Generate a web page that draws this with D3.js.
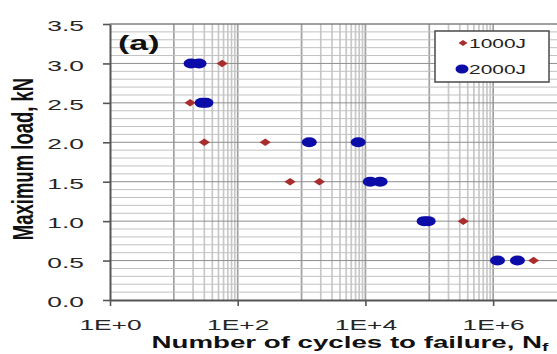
<!DOCTYPE html>
<html>
<head>
<meta charset="utf-8">
<script src="https://cdn.jsdelivr.net/npm/d3@7"></script>
<style>
  body { margin: 0; background: #fff; }
  svg { display: block; font-family: "Liberation Sans", Arial, sans-serif; }
</style>
</head>
<body>
<div id="chart"></div>
<script>
// values
const seriesNames = ["1000J", "2000J"];
const cycles1000 = [57, 18, 30, 270, 660, 1900, 340000, 4300000];
const loads1000 = [3.0, 2.5, 2.0, 2.0, 1.5, 1.5, 1.0, 0.5];
const cycles2000 = [18.6, 24.8, 27.7, 31.8, 1320, 7700, 11900, 17000, 83000, 96000, 1170000, 2400000];
const loads2000 = [3.0, 3.0, 2.5, 2.5, 2.0, 2.0, 1.5, 1.5, 1.0, 1.0, 0.5, 0.5];
const xTicks = [1, 1e2, 1e4, 1e6];
const xTickLabels = ["1E+0", "1E+2", "1E+4", "1E+6"];
const yTicks = [0, 0.5, 1.0, 1.5, 2.0, 2.5, 3.0, 3.5];

const w = 557;
const h = 354;
const plotLeft = 110;
const plotTop = 24;
const plotBottom = 300;
const plotRight = 557;
const stretch = 1.7; // the figure is stretched sideways

const xScale = d3.scaleLog().domain([1, 1e7]).range([plotLeft, plotRight]);
const yScale = d3.scaleLinear().domain([0, 3.5]).range([plotBottom, plotTop]);

const svg = d3.select("#chart").append("svg").attr("width", w).attr("height", h);

// vertical grid (log base 100 style: minor lines only in odd decades)
const vLines = [];
[1, 3, 5].forEach((n) => {
  for (let k = 1; k <= 10; k++) vLines.push({ v: k * Math.pow(10, n), major: k === 1 || k === 10 });
});
svg.append("g")
  .selectAll("line")
  .data(vLines)
  .enter()
  .append("line")
  .attr("x1", (d) => xScale(d.v))
  .attr("x2", (d) => xScale(d.v))
  .attr("y1", plotTop)
  .attr("y2", plotBottom)
  .attr("stroke", (d) => (d.major ? "#a0a0a0" : "#c8c8c8"))
  .attr("stroke-width", 1.7);

// horizontal grid every 0.1
const hLines = d3.range(1, 35).map((i) => i / 10);
svg.append("g")
  .selectAll("line")
  .data(hLines)
  .enter()
  .append("line")
  .attr("x1", plotLeft)
  .attr("x2", plotRight)
  .attr("y1", (d) => yScale(d))
  .attr("y2", (d) => yScale(d))
  .attr("stroke", (d) => (Math.abs(d * 2 - Math.round(d * 2)) < 1e-6 ? "#8e8e8e" : "#c2c2c2"))
  .attr("stroke-width", 1);

// top border
svg.append("line")
  .attr("x1", plotLeft).attr("x2", plotRight)
  .attr("y1", yScale(3.5)).attr("y2", yScale(3.5))
  .attr("stroke", "#808080").attr("stroke-width", 1.3);

// axes
const xAxis = d3.axisBottom(xScale).tickValues(xTicks)
  .tickFormat((d, i) => xTickLabels[i]).tickSizeInner(6).tickSizeOuter(0);
const yAxis = d3.axisLeft(yScale).tickValues(yTicks)
  .tickFormat(d3.format(".1f")).tickSizeInner(7).tickSizeOuter(0);

const gx = svg.append("g").attr("transform", "translate(0," + plotBottom + ")").call(xAxis);
const gy = svg.append("g").attr("transform", "translate(" + plotLeft + ",0)").call(yAxis);

[gx, gy].forEach((g) => {
  g.select(".domain").attr("stroke", "#555").attr("stroke-width", 2);
  g.selectAll(".tick line").attr("stroke", "#555").attr("stroke-width", 1.6);
  g.selectAll(".tick text").attr("fill", "#262626").attr("font-size", 15.5);
});
gx.selectAll(".tick text").attr("y", 0).attr("dy", 0)
  .attr("transform", "translate(0,30) scale(" + stretch + ",1)");
gy.selectAll(".tick text").attr("x", 0).attr("dy", "0.36em")
  .attr("transform", "translate(-26,1) scale(" + stretch + ",1)");

// axis titles
const xTitle = svg.append("text")
  .attr("transform", "translate(350,348) scale(1.73,1)")
  .attr("text-anchor", "middle")
  .attr("font-size", 16)
  .attr("font-weight", "bold")
  .attr("fill", "#111");
xTitle.append("tspan").text("Number of cycles to failure, N");
xTitle.append("tspan").attr("font-size", 11).attr("dy", 3).text("f");

svg.append("text")
  .attr("transform", "translate(33,159) scale(1.6,1) rotate(-90)")
  .attr("text-anchor", "middle")
  .attr("font-size", 18.5)
  .attr("font-weight", "bold")
  .attr("fill", "#111")
  .text("Maximum load, kN");

svg.append("text")
  .attr("transform", "translate(118,50) scale(1.7,1)")
  .attr("font-size", 20)
  .attr("font-weight", "bold")
  .attr("fill", "#111")
  .text("(a)");

// data marks
const red = "#aa2d2d";
const blue = "#0c0ca8";
const data1000 = cycles1000.map((c, i) => ({ c, l: loads1000[i] }));
const data2000 = cycles2000.map((c, i) => ({ c, l: loads2000[i] }));
const diamond = d3.symbol().type(d3.symbolSquare).size(28);

svg.append("g")
  .selectAll("path")
  .data(data1000)
  .enter()
  .append("path")
  .attr("d", diamond)
  .attr("transform", (d) => "translate(" + xScale(d.c) + "," + yScale(d.l) + ") scale(1.5,1) rotate(45)")
  .attr("fill", red);

svg.append("g")
  .selectAll("ellipse")
  .data(data2000)
  .enter()
  .append("ellipse")
  .attr("cx", (d) => xScale(d.c))
  .attr("cy", (d) => yScale(d.l))
  .attr("rx", 7.5)
  .attr("ry", 5)
  .attr("fill", blue);

// legend
const legend = svg.append("g");
legend.append("rect")
  .attr("x", 435).attr("y", 31).attr("width", 114).attr("height", 51)
  .attr("fill", "#fff").attr("stroke", "#4a4a4a").attr("stroke-width", 1.5);
seriesNames.forEach((name, i) => {
  const y = 43 + i * 26;
  if (i === 0) {
    legend.append("path").attr("d", d3.symbol().type(d3.symbolSquare).size(18))
      .attr("transform", "translate(463," + y + ") scale(1.5,1) rotate(45)")
      .attr("fill", red);
  } else {
    legend.append("ellipse").attr("cx", 462).attr("cy", y)
      .attr("rx", 6.5).attr("ry", 4.5).attr("fill", blue);
  }
  legend.append("text")
    .attr("transform", "translate(469," + y + ") scale(1.55,1)")
    .attr("dy", "0.36em")
    .attr("font-size", 13.5)
    .attr("fill", "#222")
    .text(name);
});
</script>
</body>
</html>
